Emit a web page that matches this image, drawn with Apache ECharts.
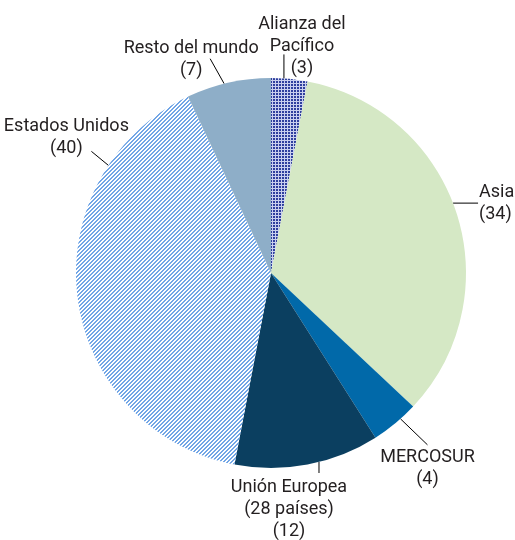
<!DOCTYPE html>
<html>
<head>
<meta charset="utf-8">
<script src="https://cdn.jsdelivr.net/npm/echarts@6/dist/echarts.min.js"></script>
<style>html,body{margin:0;padding:0;background:#fff}#c{width:515px;height:540px}</style>
</head>
<body>
<div id="c"></div>
<script>
// ---- data ----
const categories = ['Alianza del\nPacífico', 'Asia', 'MERCOSUR', 'Unión Europea\n(28 países)', 'Estados Unidos', 'Resto del mundo'];
const values = [3, 34, 4, 12, 40, 7];

// ---- style / layout config ----
const CX = 271, CY = 273, R = 195;
function makeTile(size, fn) {
  const c = document.createElement('canvas');
  c.width = size; c.height = size;
  const ctx = c.getContext('2d');
  for (let y = 0; y < size; y++) for (let x = 0; x < size; x++) {
    ctx.fillStyle = fn(x, y); ctx.fillRect(x, y, 1, 1);
  }
  return c;
}
const hatch = makeTile(4, (x, y) => ((x + y) % 4 < 2) ? '#72a6e6' : '#ffffff');
const grid = makeTile(3, (x, y) => (x === 2 || y === 2) ? '#c9cfee' : '#2f3f9e');
const colors = [
  { image: grid, repeat: 'repeat' },
  '#d5e8c5',
  '#0169a9',
  '#0b3f60',
  { image: hatch, repeat: 'repeat' },
  '#8eaec8'
];
// anchor angle on rim (deg clockwise from top), line vector, label offset from line end, alignment
const labelCfg = [
  { ang: 3.8,   v: [0, -24],  o: [18, -8],  a: 'center', va: 'middle' },
  { ang: 69,    v: [25, 0],   o: [1, 0],    a: 'left',   va: 'middle' },
  { ang: 138.4, v: [27, 26],  o: [0, 2],    a: 'center', va: 'top' },
  { ang: 165.75,v: [0, 11],   o: [-30, 3],  a: 'center', va: 'top' },
  { ang: 303.5, v: [-17, -14],o: [-25, -14],a: 'center', va: 'middle' },
  { ang: 346.1, v: [-14, -25],o: [-19, 1],  a: 'center', va: 'middle' }
];

const chart = echarts.init(document.getElementById('c'), null, { renderer: 'canvas' });
chart.setOption({
  animation: false,
  series: [{
    type: 'pie',
    center: [CX, CY],
    radius: R,
    startAngle: 90,
    clockwise: true,
    silent: true,
    data: categories.map((n, i) => ({ name: n, value: values[i], itemStyle: { color: colors[i] } })),
    itemStyle: { borderWidth: 0 },
    label: {
      show: true,
      position: 'outside',
      formatter: '{b}\n({c})',
      fontFamily: 'Roboto, sans-serif',
      fontSize: 18,
      lineHeight: 22,
      color: '#231f20',
      overflow: 'none'
    },
    labelLine: { show: true, lineStyle: { color: '#000', width: 1 } },
    labelLayout: function (p) {
      const c = labelCfg[p.dataIndex];
      const t = c.ang * Math.PI / 180;
      const x0 = CX + R * Math.sin(t), y0 = CY - R * Math.cos(t);
      const x1 = x0 + c.v[0], y1 = y0 + c.v[1];
      return {
        x: x1 + c.o[0], y: y1 + c.o[1],
        width: 220,
        align: c.a, verticalAlign: c.va,
        labelLinePoints: [[x0, y0], [x1, y1], [x1, y1]]
      };
    }
  }]
});
</script>
</body>
</html>
